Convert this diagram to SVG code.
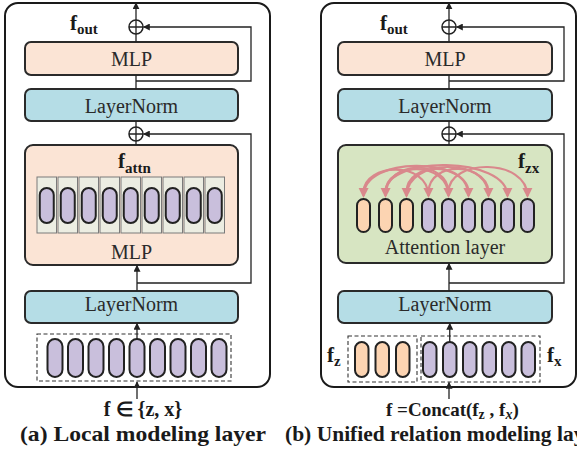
<svg xmlns="http://www.w3.org/2000/svg" width="577" height="454" viewBox="0 0 577 454">
<defs>
<marker id="ah" viewBox="0 0 10 10" refX="9" refY="5" markerWidth="7" markerHeight="7" markerUnits="userSpaceOnUse" orient="auto">
<path d="M0,0 L10,5 L0,10 z" fill="#222"/>
</marker>
<marker id="ap" viewBox="0 0 10 10" refX="8" refY="5" markerWidth="10" markerHeight="11" markerUnits="userSpaceOnUse" orient="auto">
<path d="M0,0 L10,5 L0,10 z" fill="#d9888c"/>
</marker>
</defs>
<style>
.panel{fill:#fff;stroke:#1a1a1a;stroke-width:2}
.box{stroke:#2a2a2a;stroke-width:2}
.mlp{fill:#fbe4d5}
.ln{fill:#b5dde6}
.att{fill:#d7e5c2}
.cell{fill:#ecede2;stroke:#7a7a7a;stroke-width:1}
.pp{fill:#c9bfdc;stroke:#222;stroke-width:2}
.po{fill:#fcd4b2;stroke:#222;stroke-width:2}
.lbl{font-family:"Liberation Serif","Times New Roman",serif;font-size:20px;fill:#2a2a2a;text-anchor:middle}
.b{font-family:"Liberation Serif","Times New Roman",serif;font-weight:bold;fill:#1a1a1a}
.ln1{fill:none;stroke:#222;stroke-width:1.3}
.arc{fill:none;stroke:#d9888c;stroke-width:2.2}
.dash{fill:none;stroke:#333;stroke-width:1.1;stroke-dasharray:4 2.5}
.sum{fill:#fff;stroke:#222;stroke-width:1.5}
</style>

<!-- Panel (a) -->
<rect class="panel" x="5" y="3" width="265" height="384" rx="13"/>
<g id="a-mlp-top"><rect class="box mlp" x="25" y="42" width="213" height="33" rx="6"/><text class="lbl" x="131.5" y="65.5">MLP</text></g>
<g id="a-ln-top"><rect class="box ln" x="25" y="89" width="213" height="32" rx="6"/><text class="lbl" x="131.5" y="112.5">LayerNorm</text></g>
<g id="a-sum-top"><circle class="sum" cx="136" cy="27" r="7"/><path class="ln1" d="M129,27 H143 M136,20 V34"/></g>
<g id="a-sum-mid"><circle class="sum" cx="136" cy="134" r="7"/><path class="ln1" d="M129,134 H143 M136,127 V141"/></g>
<g id="a-attn">
<rect class="box mlp" x="25" y="145" width="213" height="120" rx="8"/>
<text class="b" x="118" y="168" font-size="21">f<tspan font-size="15" dy="4.5">attn</tspan></text>
<g>
<rect class="cell" x="37" y="177" width="19.5" height="56"/>
<rect class="cell" x="58" y="177" width="19.5" height="56"/>
<rect class="cell" x="79" y="177" width="19.5" height="56"/>
<rect class="cell" x="100" y="177" width="19.5" height="56"/>
<rect class="cell" x="121" y="177" width="19.5" height="56"/>
<rect class="cell" x="142" y="177" width="19.5" height="56"/>
<rect class="cell" x="163" y="177" width="19.5" height="56"/>
<rect class="cell" x="184" y="177" width="19.5" height="56"/>
<rect class="cell" x="205" y="177" width="19.5" height="56"/>
</g>
<g>
<rect class="pp" x="39.75" y="188" width="14" height="35" rx="7"/>
<rect class="pp" x="60.75" y="188" width="14" height="35" rx="7"/>
<rect class="pp" x="81.75" y="188" width="14" height="35" rx="7"/>
<rect class="pp" x="102.75" y="188" width="14" height="35" rx="7"/>
<rect class="pp" x="123.75" y="188" width="14" height="35" rx="7"/>
<rect class="pp" x="144.75" y="188" width="14" height="35" rx="7"/>
<rect class="pp" x="165.75" y="188" width="14" height="35" rx="7"/>
<rect class="pp" x="186.75" y="188" width="14" height="35" rx="7"/>
<rect class="pp" x="207.75" y="188" width="14" height="35" rx="7"/>
</g>
<text class="lbl" x="131.5" y="259">MLP</text>
</g>
<g id="a-ln-bot"><rect class="box ln" x="25" y="291" width="213" height="32" rx="6"/><text class="lbl" x="131.5" y="311">LayerNorm</text></g>
<g id="a-input">
<rect class="dash" x="37" y="334" width="194" height="47"/>
<rect class="pp" x="47.5" y="339" width="15" height="38" rx="7.5"/>
<rect class="pp" x="68" y="339" width="15" height="38" rx="7.5"/>
<rect class="pp" x="88.5" y="339" width="15" height="38" rx="7.5"/>
<rect class="pp" x="109" y="339" width="15" height="38" rx="7.5"/>
<rect class="pp" x="129.5" y="339" width="15" height="38" rx="7.5"/>
<rect class="pp" x="150" y="339" width="15" height="38" rx="7.5"/>
<rect class="pp" x="170.5" y="339" width="15" height="38" rx="7.5"/>
<rect class="pp" x="191" y="339" width="15" height="38" rx="7.5"/>
<rect class="pp" x="211.5" y="339" width="15" height="38" rx="7.5"/>
</g>
<text class="b" x="70" y="30" font-size="21">f<tspan font-size="15" dy="4">out</tspan></text>
<text class="b" x="143" y="416" font-size="20" text-anchor="middle">f ∈ {z, x}</text>
<text class="b" x="20" y="441" font-size="21" textLength="246" lengthAdjust="spacingAndGlyphs">(a) Local modeling layer</text>

<!-- Panel (b) -->
<rect class="panel" x="321" y="3" width="255" height="384" rx="13"/>
<g id="b-mlp-top"><rect class="box mlp" x="338" y="42" width="214" height="33" rx="6"/><text class="lbl" x="445" y="65.5">MLP</text></g>
<g id="b-ln-top"><rect class="box ln" x="338" y="89" width="214" height="32" rx="6"/><text class="lbl" x="445" y="112.5">LayerNorm</text></g>
<g id="b-sum-top"><circle class="sum" cx="449" cy="27" r="7"/><path class="ln1" d="M442,27 H456 M449,20 V34"/></g>
<g id="b-sum-mid"><circle class="sum" cx="449" cy="134" r="7"/><path class="ln1" d="M442,134 H456 M449,127 V141"/></g>
<g id="b-attn">
<rect class="box att" x="338" y="145" width="214" height="118" rx="8"/>
<text class="b" x="518" y="168" font-size="21">f<tspan font-size="15" dy="4.5">zx</tspan></text>
<rect class="po" x="357" y="199" width="13" height="33" rx="6.5"/>
<rect class="po" x="379" y="199" width="13" height="33" rx="6.5"/>
<rect class="po" x="400" y="199" width="13" height="33" rx="6.5"/>
<rect class="pp" x="422" y="199" width="13" height="33" rx="6.5"/>
<rect class="pp" x="442" y="199" width="13" height="33" rx="6.5"/>
<rect class="pp" x="462" y="199" width="13" height="33" rx="6.5"/>
<rect class="pp" x="482" y="199" width="13" height="33" rx="6.5"/>
<rect class="pp" x="501" y="199" width="13" height="33" rx="6.5"/>
<rect class="pp" x="521" y="199" width="13" height="33" rx="6.5"/>
<g id="b-arcs">
<path class="arc" marker-end="url(#ap)" d="M468.5,192 C468,158 364,155 363.5,196"/>
<path class="arc" marker-end="url(#ap)" d="M448.5,192 C448,160 386,158 385.5,196"/>
<path class="arc" marker-end="url(#ap)" d="M488.5,192 C488,159 407,157 406.5,196"/>
<path class="arc" marker-end="url(#ap)" d="M363.5,192 C364,163 428,160 428.5,196"/>
<path class="arc" marker-end="url(#ap)" d="M385.5,192 C386,162 448,160 448.5,196"/>
<path class="arc" marker-end="url(#ap)" d="M406.5,192 C407,161 468,160 468.5,196"/>
<path class="arc" marker-end="url(#ap)" d="M428.5,192 C429,161 488,160 488.5,196"/>
<path class="arc" marker-end="url(#ap)" d="M385.5,192 C386,155 507,156 507.5,196"/>
<path class="arc" marker-end="url(#ap)" d="M448.5,192 C449,158 527,158 527.5,196"/>
</g>
<text class="lbl" x="445" y="254" font-size="21">Attention layer</text>
</g>
<g id="b-ln-bot"><rect class="box ln" x="338" y="291" width="214" height="32" rx="6"/><text class="lbl" x="445" y="311">LayerNorm</text></g>
<g id="b-input">
<rect class="dash" x="348" y="336" width="69" height="46"/>
<rect class="dash" x="421" y="336" width="119" height="46"/>
<rect class="po" x="355" y="342" width="13.5" height="35" rx="6.75"/>
<rect class="po" x="375.5" y="342" width="13.5" height="35" rx="6.75"/>
<rect class="po" x="396" y="342" width="13.5" height="35" rx="6.75"/>
<rect class="pp" x="423" y="342" width="13.5" height="35" rx="6.75"/>
<rect class="pp" x="443" y="342" width="13.5" height="35" rx="6.75"/>
<rect class="pp" x="463" y="342" width="13.5" height="35" rx="6.75"/>
<rect class="pp" x="482.5" y="342" width="13.5" height="35" rx="6.75"/>
<rect class="pp" x="502" y="342" width="13.5" height="35" rx="6.75"/>
<rect class="pp" x="521.5" y="342" width="13.5" height="35" rx="6.75"/>
</g>
<text class="b" x="327" y="362" font-size="21">f<tspan font-size="15" dy="3.5">z</tspan></text>
<text class="b" x="547" y="362" font-size="21">f<tspan font-size="15" dy="3.5">x</tspan></text>
<text class="b" x="380" y="30" font-size="21">f<tspan font-size="15" dy="4">out</tspan></text>
<text class="b" x="386" y="416" font-size="19">f =Concat(f<tspan font-size="14" dy="3">z</tspan><tspan dy="-3"> , f</tspan><tspan font-size="14" dy="3" font-style="italic">x</tspan><tspan dy="-3">)</tspan></text>
<text class="b" x="285" y="441" font-size="21.5">(b) Unified relation modeling layer</text>

<!-- Connectors -->
<g id="connectors">
<path class="ln1" marker-end="url(#ah)" d="M136,20 V3"/>
<path class="ln1" d="M136,42 V34"/>
<path class="ln1" d="M136,89 V75"/>
<path class="ln1" d="M136,127 V121"/>
<path class="ln1" d="M136,145 V141"/>
<path class="ln1" marker-end="url(#ah)" d="M136,81 H251 V27 H143.5"/>
<path class="ln1" marker-end="url(#ah)" d="M137,291 V265.5"/>
<path class="ln1" marker-end="url(#ah)" d="M137,283 H251 V134 H143.5"/>
<path class="ln1" marker-end="url(#ah)" d="M137,339 V323.5"/>
<path class="ln1" marker-end="url(#ah)" d="M137,399 V382"/>

<path class="ln1" marker-end="url(#ah)" d="M449,20 V3"/>
<path class="ln1" d="M449,42 V34"/>
<path class="ln1" d="M449,89 V75"/>
<path class="ln1" d="M449,127 V121"/>
<path class="ln1" d="M449,145 V141"/>
<path class="ln1" marker-end="url(#ah)" d="M449,81 H564 V27 H456.5"/>
<path class="ln1" marker-end="url(#ah)" d="M449,291 V263.5"/>
<path class="ln1" marker-end="url(#ah)" d="M449,283 H564 V134 H456.5"/>
<path class="ln1" marker-end="url(#ah)" d="M449.75,342 V323.5"/>
<path class="ln1" marker-end="url(#ah)" d="M449,399 V382.5"/>
</g>
</svg>
